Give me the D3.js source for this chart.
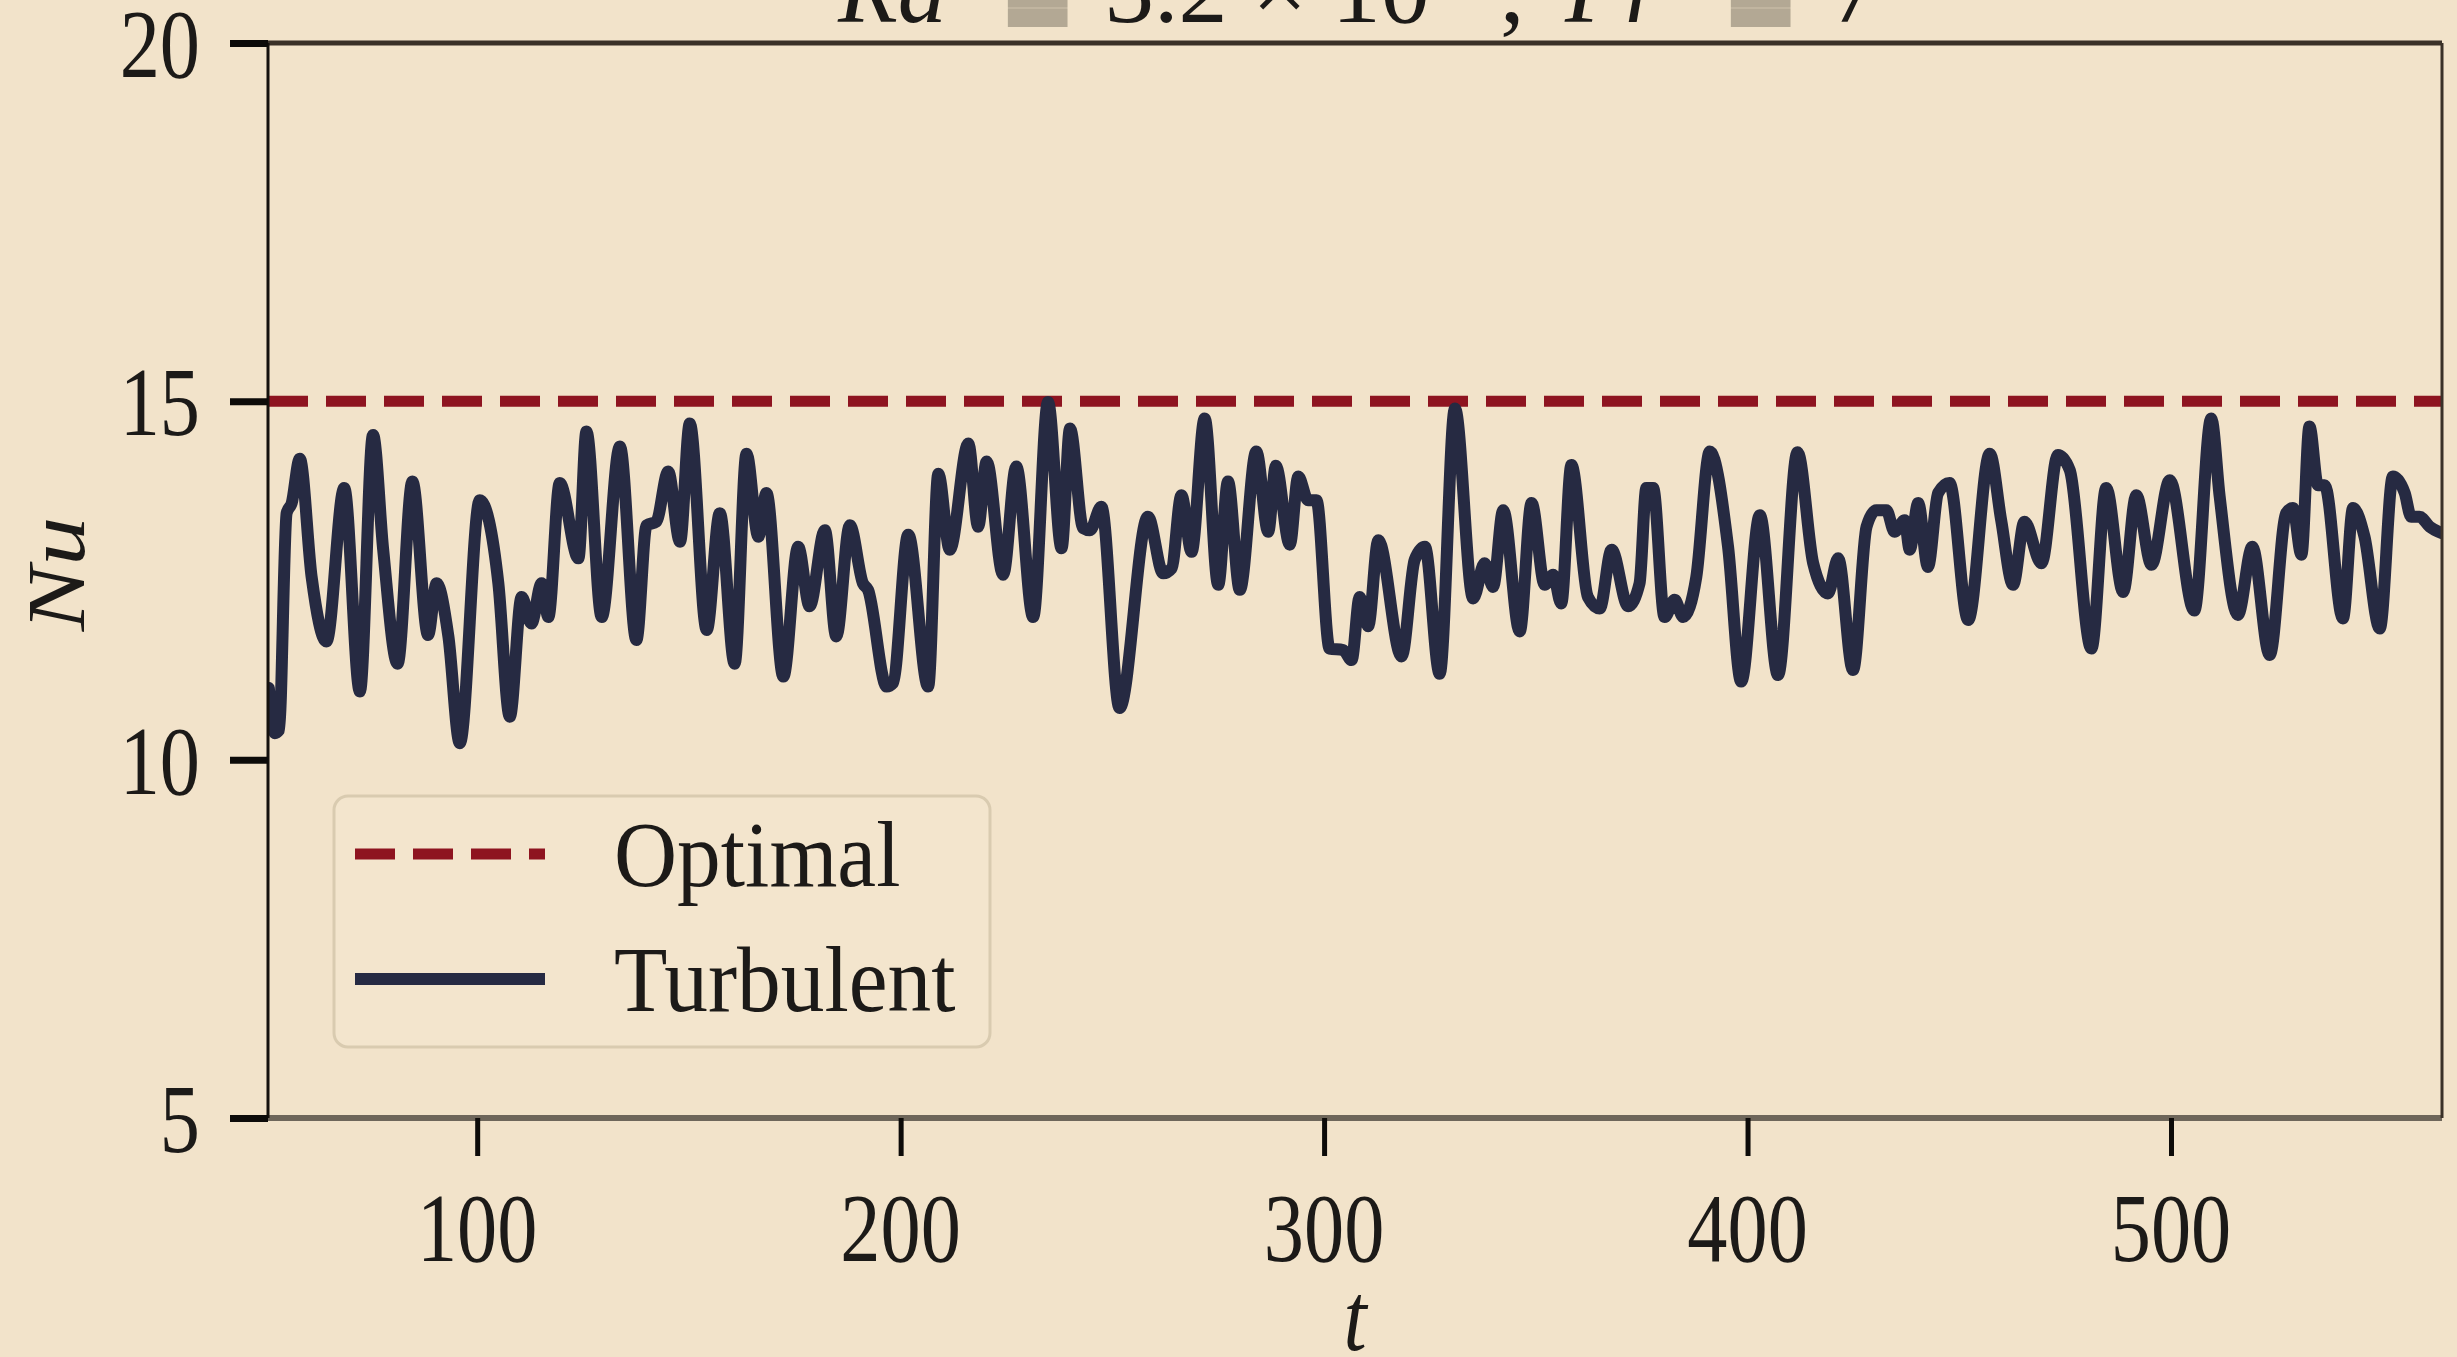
<!DOCTYPE html>
<html>
<head>
<meta charset="utf-8">
<script src="https://cdn.jsdelivr.net/npm/d3@7"></script>
<style>
    body { margin: 0; background: #f2e3ca; }
    svg { display: block; }
    text { font-family: "Liberation Serif", "DejaVu Serif", serif; fill: #1c1a18; }
</style>
</head>
<body>
<svg id="chart"></svg>
<script>
// time samples (t) and Nusselt number of the turbulent run
const tValues = [
    50.8, 52.2, 53.2, 55.0, 56.2, 58.1, 60.9, 64.4, 68.6, 72.3, 75.4, 77.8, 81.2, 84.7, 88.4, 90.4, 93.2, 95.9, 100.6, 105.0,
    107.7, 110.5, 112.8, 115.2, 116.8, 119.5, 123.9, 125.8, 129.4, 133.7, 137.6, 140.0, 142.3, 145.1, 147.9, 150.2, 154.2, 157.3, 160.8, 163.6,
    166.4, 168.3,
    172.3, 175.8, 178.5, 182.1, 184.8, 188.0, 191.1, 192.3, 196.7, 198.2, 201.8, 206.5, 208.9, 211.6, 216.0, 218.3, 220.3, 224.2, 227.3, 231.3,
    234.8, 238.0, 240.0, 243.1, 244.7, 247.4, 251.7, 258.4, 262.0, 264.0, 266.3, 268.7, 271.8, 275.0, 277.3, 280.1, 284.0, 286.8, 288.6,
    291.9, 293.9, 296.2, 298.2, 301.3, 304.5, 306.5, 308.4, 310.4, 312.8, 318.3, 321.4, 323.8, 327.3, 330.9, 335.2, 337.9, 339.9, 342.3, 346.2,
    349.0, 352.1, 354.1, 356.0, 358.4, 362.3, 365.1, 367.9, 371.8, 374.5, 376.1, 377.7, 380.4, 382.8, 384.8, 387.9, 391.1, 395.4, 398.5, 402.9,
    407.2, 411.8,
    415.5, 419.0, 421.4, 424.9, 428.1, 430.4, 432.8, 434.7, 437.1, 438.3, 440.3, 442.6, 445.0, 447.7, 452.1, 457.2, 459.9, 462.7, 465.4, 469.4,
    473.3, 476.1, 481.2, 484.7, 488.7, 491.8, 495.4, 499.7, 505.5,
    509.5, 511.5, 515.8, 519.2, 523.3, 527.2, 528.8, 530.8, 532.7, 534.7, 536.3, 540.6, 543.0, 545.7, 549.3, 552.4, 555.2, 556.7, 558.7, 561.1,
    564.0
];
const nuTurbulent = [
    11.0, 10.37, 10.41, 13.44, 13.58, 14.20, 12.55, 11.65, 13.79, 10.95, 14.53, 12.93, 11.34, 13.88, 11.74, 12.46, 11.72, 10.23, 13.62, 12.46,
    10.60, 12.27, 11.90, 12.46, 11.99, 13.86, 12.81, 14.58, 11.99, 14.37, 11.67, 13.27, 13.32, 14.02, 13.04, 14.69, 11.81, 13.44, 11.34, 14.27,
    13.11, 13.72,
    11.16, 12.97, 12.14, 13.20, 11.72, 13.27, 12.46, 12.37, 11.02, 11.07, 13.14, 11.02, 13.99, 12.93, 14.41, 13.25, 14.16, 12.58, 14.09, 11.99,
    14.99, 12.95, 14.62, 13.23, 13.20, 13.53, 10.72, 13.39, 12.60, 12.67, 13.69, 12.90, 14.76, 12.44, 13.88, 12.37, 14.30, 13.18, 14.10,
    13.00, 13.95, 13.62, 13.62, 11.55, 11.53, 11.39, 12.27, 11.86, 13.06, 11.44, 12.79, 12.97, 11.20, 14.90, 12.25, 12.74, 12.41, 13.48, 11.79,
    13.58, 12.44, 12.58, 12.18, 14.11, 12.27, 12.11, 12.93, 12.14, 12.46, 13.79, 13.79, 11.99, 12.23, 11.99, 12.55, 14.30, 12.97, 11.09, 13.41,
    11.18, 14.29,
    12.74, 12.32, 12.81, 11.25, 13.25, 13.48, 13.48, 13.18, 13.34, 12.93, 13.58, 12.69, 13.72, 13.86, 11.95, 14.27, 13.34, 12.44, 13.32, 12.74,
    14.25, 14.04, 11.55, 13.79, 12.34, 13.69, 12.72, 13.90, 12.08,
    14.76, 13.67, 12.02, 12.97, 11.46, 13.44, 13.51, 12.86, 14.65, 13.83, 13.83, 11.97, 13.51, 13.11, 11.83, 13.95, 13.72, 13.39, 13.39, 13.25,
    13.16
];
const nuOptimal = 15;

const xDomain = [50.6, 564];
const yDomain = [5, 20];
const xTicks = [100, 200, 300, 400, 500];
const yTicks = [5, 10, 15, 20];
const legendLabels = ['Optimal', 'Turbulent'];

const width = 2457,
    height = 1357;
const margin = { left: 268, right: 15, top: 43, bottom: 239 };

const svg = d3.select('#chart')
    .attr('width', width)
    .attr('height', height);

svg.append('rect')
    .attr('width', width)
    .attr('height', height)
    .attr('fill', '#f2e3ca');

const x = d3.scaleLinear()
    .domain(xDomain)
    .range([margin.left, width - margin.right]);

const y = d3.scaleLinear()
    .domain(yDomain)
    .range([height - margin.bottom, margin.top]);

// title, only its lower part is inside the frame
const title = svg.append('text')
    .attr('y', 22)
    .attr('font-size', 98);
title.append('tspan').attr('x', 838).attr('font-style', 'italic').text('Ra');
title.append('tspan').attr('x', 1010).attr('dy', 18)
    .attr('fill', '#b3a894').attr('stroke', '#b3a894').attr('stroke-width', 14).text('=');
title.append('tspan').attr('x', 1105).attr('dy', -18).text('3.2 \u00d7 10');
title.append('tspan').attr('dy', -40).attr('font-size', 66).text('7');
title.append('tspan').attr('x', 1500).attr('dy', 40).text(',');
title.append('tspan').attr('x', 1565).attr('font-style', 'italic').text('Pr');
title.append('tspan').attr('x', 1733).attr('dy', 18)
    .attr('fill', '#b3a894').attr('stroke', '#b3a894').attr('stroke-width', 14).text('=');
title.append('tspan').attr('x', 1830).attr('dy', -18).text('7');

// clip for the data lines
svg.append('clipPath').attr('id', 'plot-clip')
    .append('rect')
    .attr('x', x.range()[0])
    .attr('y', y.range()[1])
    .attr('width', x.range()[1] - x.range()[0])
    .attr('height', y.range()[0] - y.range()[1]);

const plot = svg.append('g').attr('clip-path', 'url(#plot-clip)');

// optimal level
plot.append('line')
    .attr('x1', x(xDomain[0]))
    .attr('x2', x(xDomain[1]))
    .attr('y1', y(nuOptimal))
    .attr('y2', y(nuOptimal))
    .attr('stroke', '#8e1420')
    .attr('stroke-width', 11)
    .attr('stroke-dasharray', '40,18');

// turbulent series
const series = tValues.map((t, i) => ({ t: t, nu: nuTurbulent[i] }));
const line = d3.line()
    .x(d => x(d.t))
    .y(d => y(d.nu))
    .curve(d3.curveMonotoneX);

plot.append('path')
    .datum(series)
    .attr('d', line)
    .attr('fill', 'none')
    .attr('stroke', '#262a42')
    .attr('stroke-width', 12)
    .attr('stroke-linejoin', 'round')
    .attr('stroke-linecap', 'round');

// frame
const frame = svg.append('g');
frame.append('line')
    .attr('x1', x.range()[0]).attr('x2', x.range()[1])
    .attr('y1', y.range()[1]).attr('y2', y.range()[1])
    .attr('stroke', '#3a3128').attr('stroke-width', 5);
frame.append('line')
    .attr('x1', x.range()[0]).attr('x2', x.range()[1])
    .attr('y1', y.range()[0]).attr('y2', y.range()[0])
    .attr('stroke', '#6e665a').attr('stroke-width', 6);
frame.append('line')
    .attr('x1', x.range()[0]).attr('x2', x.range()[0])
    .attr('y1', y.range()[1]).attr('y2', y.range()[0])
    .attr('stroke', '#15110d').attr('stroke-width', 3);
frame.append('line')
    .attr('x1', x.range()[1]).attr('x2', x.range()[1])
    .attr('y1', y.range()[1]).attr('y2', y.range()[0])
    .attr('stroke', '#3a3128').attr('stroke-width', 3);

// axes, ticks only; labels drawn below so they can be narrowed
const xAxis = d3.axisBottom(x)
    .tickValues(xTicks)
    .tickSize(38)
    .tickFormat('');
const xAxisG = svg.append('g')
    .attr('transform', `translate(0, ${y.range()[0]})`)
    .call(xAxis);
xAxisG.select('.domain').remove();
xAxisG.selectAll('.tick line')
    .attr('stroke', '#0d0b09')
    .attr('stroke-width', 5);

const yAxis = d3.axisLeft(y)
    .tickValues(yTicks)
    .tickSize(38)
    .tickFormat('');
const yAxisG = svg.append('g')
    .attr('transform', `translate(${x.range()[0]}, 0)`)
    .call(yAxis);
yAxisG.select('.domain').remove();
yAxisG.selectAll('.tick line')
    .attr('stroke', '#0d0b09')
    .attr('stroke-width', 7);

svg.append('g')
    .selectAll('text')
    .data(xTicks)
    .enter()
    .append('text')
    .attr('transform', d => `translate(${x(d)}, 1261) scale(0.82, 1)`)
    .attr('text-anchor', 'middle')
    .attr('font-size', 98)
    .text(d => d);

svg.append('g')
    .selectAll('text')
    .data(yTicks)
    .enter()
    .append('text')
    .attr('transform', d => `translate(200, ${y(d) + 34}) scale(0.82, 1)`)
    .attr('text-anchor', 'end')
    .attr('font-size', 98)
    .text(d => d);

// axis titles
svg.append('text')
    .attr('transform', `translate(${(x.range()[0] + x.range()[1]) / 2}, 1350) scale(0.85, 1)`)
    .attr('text-anchor', 'middle')
    .attr('font-size', 98)
    .attr('font-style', 'italic')
    .text('t');

svg.append('text')
    .attr('transform', 'translate(84, 574) scale(0.85, 1) rotate(-90)')
    .attr('text-anchor', 'middle')
    .attr('font-size', 98)
    .attr('font-style', 'italic')
    .text('Nu');

// legend
const legend = svg.append('g');
legend.append('rect')
    .attr('x', 334)
    .attr('y', 796)
    .attr('width', 656)
    .attr('height', 251)
    .attr('rx', 14)
    .attr('fill', '#f3e5cd')
    .attr('stroke', '#d9cbb0')
    .attr('stroke-width', 3);

const legendRows = legend.selectAll('g')
    .data(legendLabels)
    .enter()
    .append('g')
    .attr('transform', (d, i) => `translate(0, ${854 + i * 125})`);

legendRows.append('line')
    .attr('x1', 355)
    .attr('x2', 545)
    .attr('stroke', (d, i) => i === 0 ? '#8e1420' : '#262a42')
    .attr('stroke-width', (d, i) => i === 0 ? 11 : 12)
    .attr('stroke-dasharray', (d, i) => i === 0 ? '40,18' : null);

legendRows.append('text')
    .attr('transform', 'translate(614, 32) scale(0.93, 1)')
    .attr('font-size', 94)
    .text(d => d);
</script>
</body>
</html>
